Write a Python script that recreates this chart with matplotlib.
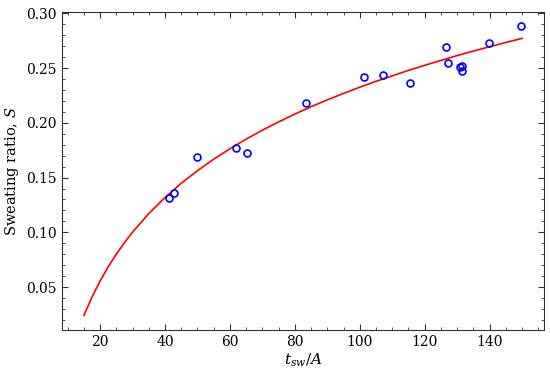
import matplotlib
matplotlib.use("Agg")
import matplotlib.pyplot as plt
from matplotlib.ticker import MultipleLocator

plt.rcParams["font.family"] = "DejaVu Serif"
plt.rcParams["mathtext.fontset"] = "dejavuserif"

# measured points
t_sw = [41.3, 42.7, 50.0, 62.0, 65.3, 83.4, 101.4, 107.3, 115.6,
        126.6, 127.2, 131.0, 131.4, 131.4, 139.8, 149.8]
S = [0.131, 0.136, 0.169, 0.177, 0.172, 0.218, 0.242, 0.244, 0.236,
     0.269, 0.255, 0.251, 0.252, 0.247, 0.273, 0.288]

# fitted curve
fit_t = [15, 17.5, 20, 22.5, 25, 27.5, 30, 35, 40, 45, 50, 55, 60, 65, 70,
         75, 80, 85, 90, 95, 100, 105, 110, 115, 120, 125, 130, 135, 140,
         145, 150]
fit_S = [0.0240, 0.0409, 0.0556, 0.0686, 0.0801, 0.0906, 0.1002, 0.1171,
         0.1318, 0.1448, 0.1563, 0.1668, 0.1763, 0.1851, 0.1933, 0.2008,
         0.2080, 0.2147, 0.2210, 0.2269, 0.2325, 0.2379, 0.2429, 0.2479,
         0.2525, 0.2570, 0.2614, 0.2655, 0.2695, 0.2734, 0.2771]

fig = plt.figure(figsize=(5.5, 3.73), dpi=100)
ax = fig.add_axes([0.1127, 0.1153, 0.8763, 0.8525])

ax.plot(fit_t, fit_S, color="red", lw=1.2)
ax.plot(t_sw, S, "o", mfc="none", mec="blue", ms=5, mew=1.2)

ax.xaxis.set_major_locator(MultipleLocator(20))
ax.xaxis.set_minor_locator(MultipleLocator(5))
ax.yaxis.set_major_locator(MultipleLocator(0.05))
ax.yaxis.set_minor_locator(MultipleLocator(0.01))
ax.yaxis.set_major_formatter(plt.FormatStrFormatter("%.2f"))
ax.tick_params(which="both", direction="in", top=True, right=True,
               labelsize=10, color="#333333")
ax.tick_params(which="major", length=4)
ax.tick_params(which="minor", length=2)
for s in ax.spines.values():
    s.set_color("#333333")

ax.set_xlabel(r"$t_{sw}/A$", fontsize=11, labelpad=2)
ax.set_ylabel(r"Sweating ratio, $S$", fontsize=10.5)

fig.savefig("out.png", dpi=100)
